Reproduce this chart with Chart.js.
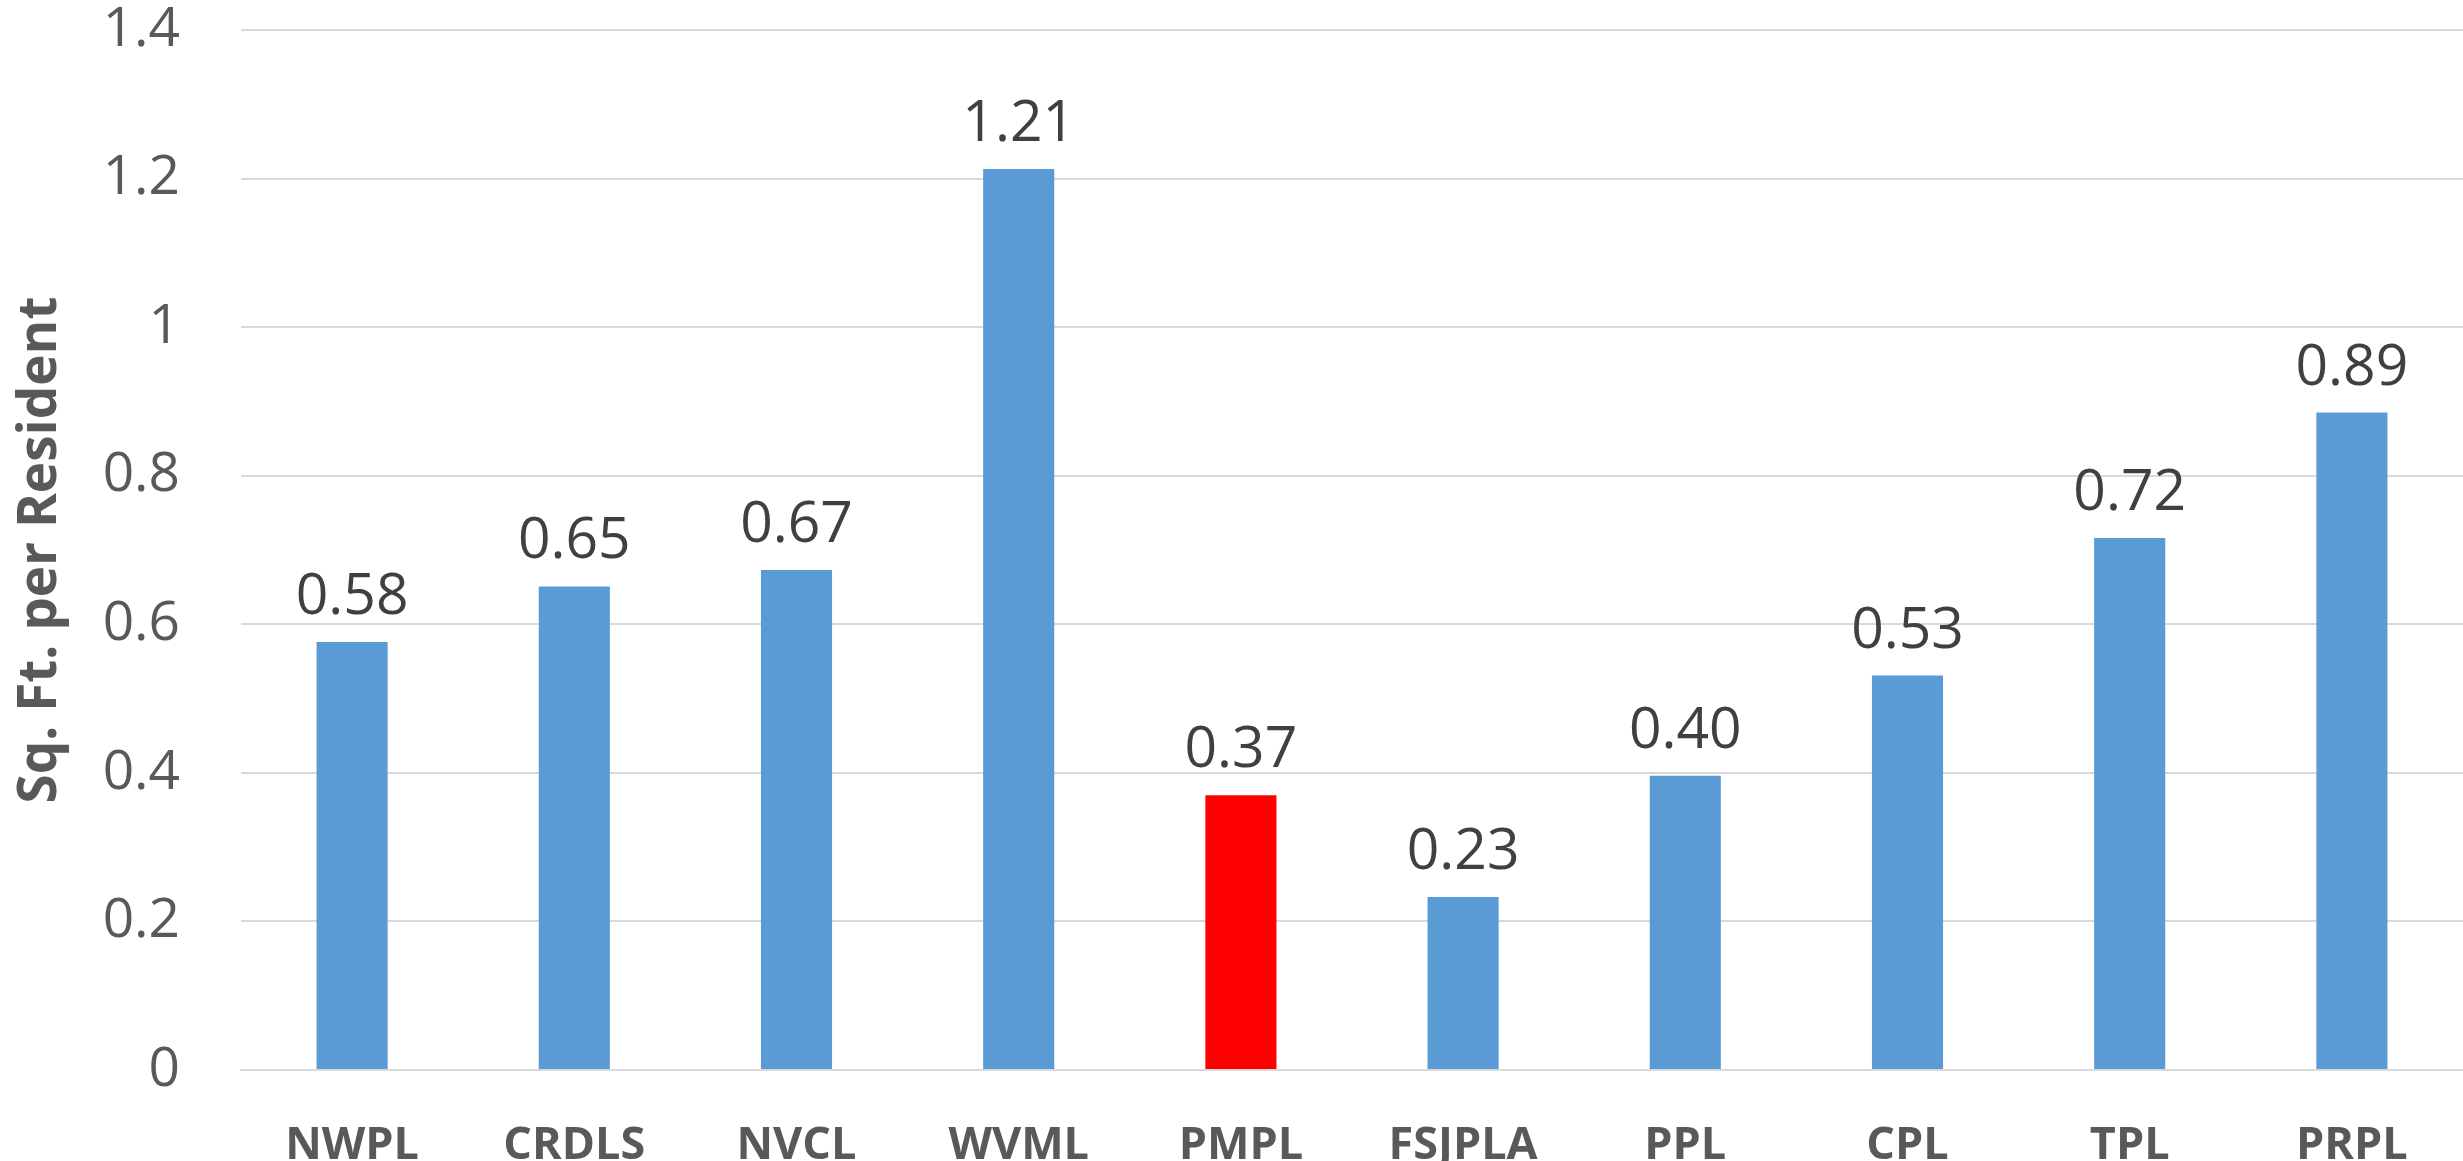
<!DOCTYPE html>
<html>
<head>
<meta charset="utf-8">
<script src="https://cdn.jsdelivr.net/npm/chart.js@4"></script>
<style>
  html, body { margin: 0; padding: 0; background: #ffffff; }
  #wrap { width: 2463px; height: 1161px; position: relative; }
</style>
</head>
<body>
<div id="wrap"><canvas id="c" width="2463" height="1161"></canvas></div>
<script>
const categories = ['NWPL', 'CRDLS', 'NVCL', 'WVML', 'PMPL', 'FSJPLA', 'PPL', 'CPL', 'TPL', 'PRPL'];
const values = [0.576, 0.651, 0.673, 1.213, 0.370, 0.233, 0.396, 0.531, 0.716, 0.885];
const valueLabels = ['0.58', '0.65', '0.67', '1.21', '0.37', '0.23', '0.40', '0.53', '0.72', '0.89'];
const barColors = ['#5B9BD5', '#5B9BD5', '#5B9BD5', '#5B9BD5', '#FF0000', '#5B9BD5', '#5B9BD5', '#5B9BD5', '#5B9BD5', '#5B9BD5'];
const yTickLabels = ['0', '0.2', '0.4', '0.6', '0.8', '1', '1.2', '1.4'];
const yAxisTitle = 'Sq. Ft. per Resident';

const FONT = "'Open Sans', 'Noto Sans', sans-serif";

const valueLabelPlugin = {
  id: 'valueLabels',
  afterDatasetsDraw(chart) {
    const ctx = chart.ctx;
    const meta = chart.getDatasetMeta(0);
    ctx.save();
    ctx.font = '57px ' + FONT;
    ctx.fillStyle = '#404040';
    ctx.textAlign = 'center';
    ctx.textBaseline = 'alphabetic';
    meta.data.forEach((bar, i) => {
      ctx.fillText(valueLabels[i], bar.x, bar.y - 28);
    });
    ctx.restore();
  }
};

new Chart(document.getElementById('c'), {
  type: 'bar',
  data: {
    labels: categories,
    datasets: [{
      data: values,
      backgroundColor: barColors,
      borderWidth: 0,
      barPercentage: 0.32,
      categoryPercentage: 1.0
    }]
  },
  options: {
    responsive: false,
    animation: false,
    devicePixelRatio: 1,
    layout: { padding: { top: 30, right: 0, bottom: 0, left: 0 } },
    plugins: {
      legend: { display: false },
      tooltip: { enabled: false }
    },
    scales: {
      x: {
        grid: { display: false, drawTicks: false },
        border: { display: true, color: '#D9D9D9', width: 2 },
        ticks: {
          color: '#595959',
          font: { family: FONT, size: 45, weight: 'bold' },
          padding: 49,
          maxRotation: 0,
          autoSkip: false
        },
        afterFit(scale) {
          scale.height = 91;
          scale.paddingLeft = 0; scale.paddingRight = 0;
          scale.paddingTop = 0; scale.paddingBottom = 0;
        }
      },
      y: {
        min: 0,
        max: 1.4,
        grid: { color: '#D9D9D9', lineWidth: 2, drawTicks: false },
        border: { display: false },
        ticks: {
          stepSize: 0.2,
          color: '#595959',
          font: { family: FONT, size: 55 },
          padding: 61,
          callback: (v, i) => yTickLabels[i]
        },
        title: {
          display: true,
          text: yAxisTitle,
          color: '#595959',
          font: { family: FONT, size: 53, weight: 'bold' },
          padding: { top: 9, bottom: 0 }
        },
        afterFit(scale) {
          scale.width = 241;
          scale.paddingTop = 0; scale.paddingBottom = 0;
        }
      }
    }
  },
  plugins: [valueLabelPlugin]
});
</script>
</body>
</html>
